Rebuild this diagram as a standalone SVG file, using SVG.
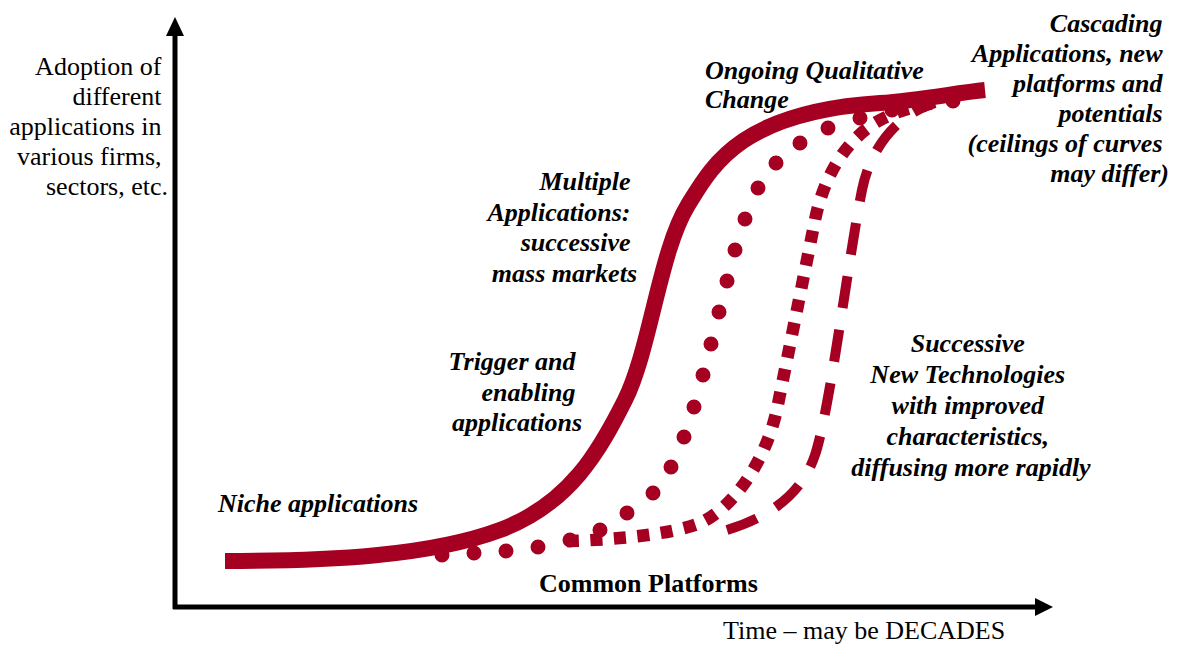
<svg xmlns="http://www.w3.org/2000/svg" width="1179" height="646" viewBox="0 0 1179 646">
<style>
.curve{fill:none;stroke:#A50021}
.axis{stroke:#000;stroke-width:5;fill:none}
.reg{font-family:"Liberation Serif","Times New Roman",serif;font-size:26px;fill:#000}
.bi{font-family:"Liberation Serif","Times New Roman",serif;font-size:26px;font-weight:bold;font-style:italic;fill:#000}
.b{font-family:"Liberation Serif","Times New Roman",serif;font-size:26px;font-weight:bold;fill:#000}
</style>
<rect width="1179" height="646" fill="#fff"/>
<g id="curves">
<path id="curve-solid" class="curve" stroke-width="16" d="M225,561 C330,561 430,556 500,530 C570,504 600,450 625,400 C650,350 660,250 688,205 C712,166 740,112 880,103 C920,100.4 955,93 985,90"/>
<path id="curve-dotted" class="curve" stroke-width="15" stroke-linecap="round" d="M442,555h0M474,553h0M506,551h0M538,547h0M570,540h0M600,530h0M627,513h0M653,493h0M671,467h0M684,437h0M694,407h0M703,375h0M711,344h0M719,312h0M727,281h0M735,250h0M745,219h0M758,188h0M776,163h0M800,143h0M828,128h0M860,118h0M892,110h0M923,105h0M953,101h0"/>
<path id="curve-square" class="curve" stroke-width="12.5" stroke-dasharray="12 11.5" d="M567,541 C610,540 670,535 700,523 C730,510 765,465 777,409 C783,380 805,270 815,220 C822,185 840,145 875,123 C893,112 915,106 935,103"/>
<path id="curve-dashed" class="curve" stroke-width="10" stroke-dasharray="32 22" d="M727,530 C760,520 800,500 815,455 C830,410 848,260 862,190 C870,150 895,115 935,103"/>
</g>
<g id="axes">
<line class="axis" x1="175" y1="609" x2="175" y2="34"/>
<polygon points="175,17 166,36 184,36" fill="#000"/>
<line class="axis" x1="173" y1="607" x2="1037" y2="607"/>
<polygon points="1053,607 1035,598 1035,616" fill="#000"/>
</g>
<g id="label-y-axis">
<text class="reg" text-anchor="end">
<tspan x="168" y="75">Adoption of</tspan>
<tspan x="168" y="105">different</tspan>
<tspan x="168" y="135">applications in</tspan>
<tspan x="168" y="165">various firms,</tspan>
<tspan x="168" y="195">sectors, etc.</tspan>
</text>
</g>
<g id="label-x-axis">
<text class="reg" x="723" y="639">Time – may be DECADES</text>
</g>
<g id="label-common">
<text class="b" x="539" y="592">Common Platforms</text>
</g>
<g id="label-niche">
<text class="bi" x="218" y="512">Niche applications</text>
</g>
<g id="label-trigger">
<text class="bi" text-anchor="end">
<tspan x="582" y="370">Trigger and</tspan>
<tspan x="582" y="401">enabling</tspan>
<tspan x="582" y="431">applications</tspan>
</text>
</g>
<g id="label-multiple">
<text class="bi" text-anchor="end">
<tspan x="637" y="190">Multiple</tspan>
<tspan x="637" y="221">Applications:</tspan>
<tspan x="637" y="251">successive</tspan>
<tspan x="637" y="282">mass markets</tspan>
</text>
</g>
<g id="label-ongoing">
<text class="bi">
<tspan x="705" y="79">Ongoing Qualitative</tspan>
<tspan x="705" y="108">Change</tspan>
</text>
</g>
<g id="label-cascading">
<text class="bi" text-anchor="end">
<tspan x="1169" y="32">Cascading</tspan>
<tspan x="1169" y="62">Applications, new</tspan>
<tspan x="1169" y="92">platforms and</tspan>
<tspan x="1169" y="122">potentials</tspan>
<tspan x="1169" y="152">(ceilings of curves</tspan>
<tspan x="1169" y="182">may differ)</tspan>
</text>
</g>
<g id="label-successive">
<text class="bi" text-anchor="middle">
<tspan x="971" y="352">Successive</tspan>
<tspan x="971" y="383">New Technologies</tspan>
<tspan x="971" y="414">with improved</tspan>
<tspan x="971" y="445">characteristics,</tspan>
<tspan x="971" y="476">diffusing more rapidly</tspan>
</text>
</g>
</svg>
